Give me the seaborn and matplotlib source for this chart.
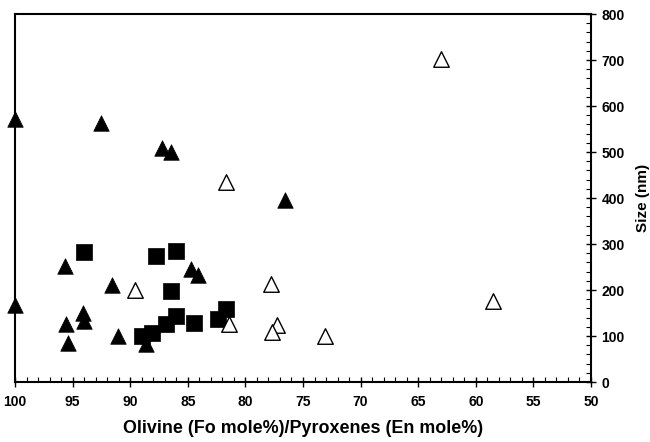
import matplotlib
matplotlib.use("Agg")
import matplotlib.pyplot as plt
from matplotlib.ticker import MultipleLocator
import seaborn as sns
import pandas as pd

# Filled triangles
ft_x = [100, 92.5, 87.2, 86.5, 76.6, 100, 95.7, 91.6, 84.7, 84.1, 94.1, 94.0, 95.6, 95.4, 91.1, 88.6]
ft_y = [571, 562, 509, 500, 395, 168, 252, 210, 245, 232, 150, 132, 126, 85, 101, 82]

# Filled squares
sq_x = [94.0, 87.8, 86.0, 86.5, 89.0, 88.1, 86.9, 86.0, 84.5, 82.4, 81.7]
sq_y = [283, 274, 284, 198, 100, 106, 127, 144, 129, 138, 159]

# Open triangles
ot_x = [63.0, 81.7, 89.6, 77.8, 81.4, 77.3, 77.7, 73.1, 58.5]
ot_y = [702, 435, 201, 214, 127, 124, 109, 100, 177]

x_ticks = [100, 95, 90, 85, 80, 75, 70, 65, 60, 55, 50]
y_ticks = [0, 100, 200, 300, 400, 500, 600, 700, 800]

sns.set_style("white")
plt.rcParams["font.family"] = ["Liberation Sans", "DejaVu Sans"]
plt.rcParams["font.weight"] = "bold"
plt.rcParams["text.color"] = "black"
plt.rcParams["axes.labelcolor"] = "black"
plt.rcParams["xtick.color"] = "black"
plt.rcParams["ytick.color"] = "black"

fig = plt.figure(figsize=(6.5, 4.42), dpi=100)
ax = fig.add_axes([15 / 650, 60 / 442, 576 / 650, 368 / 442])

ft = pd.DataFrame({"x": ft_x, "y": ft_y})
sq = pd.DataFrame({"x": sq_x, "y": sq_y})
ot = pd.DataFrame({"x": ot_x, "y": ot_y})

sns.scatterplot(data=ft, x="x", y="y", marker="^", s=125, color="black",
                edgecolor="black", linewidth=0.5, ax=ax, clip_on=False, zorder=3)
sns.scatterplot(data=sq, x="x", y="y", marker="s", s=135, color="black",
                edgecolor="black", linewidth=0.5, ax=ax, clip_on=False, zorder=4)
sns.scatterplot(data=ot, x="x", y="y", marker="^", s=125, facecolor="white",
                edgecolor="black", linewidth=1.0, ax=ax, clip_on=False, zorder=5)

ax.set_xlim(100, 50)
ax.set_ylim(0, 800)
ax.set_xticks(x_ticks)
ax.set_yticks(y_ticks)
ax.xaxis.set_minor_locator(MultipleLocator(1))
ax.yaxis.set_minor_locator(MultipleLocator(20))

ax.yaxis.tick_right()
ax.yaxis.set_label_position("right")

for side in ["left", "right", "top", "bottom"]:
    ax.spines[side].set_visible(True)
    ax.spines[side].set_color("black")
    ax.spines[side].set_linewidth(1.5)

ax.tick_params(which="major", direction="inout", length=7, width=1.0,
               labelsize=10, colors="black", labelcolor="black")
ax.tick_params(which="minor", direction="in", length=3.5, width=0.8, colors="black")
ax.tick_params(axis="x", which="both", top=False, bottom=True, pad=6)
ax.tick_params(axis="y", which="both", left=False, right=True, pad=4)

for lab in ax.get_xticklabels() + ax.get_yticklabels():
    lab.set_fontweight("bold")
    lab.set_color("black")

ax.set_xlabel("Olivine (Fo mole%)/Pyroxenes (En mole%)", fontsize=12.9,
              fontweight="bold", labelpad=8, color="black")
ax.set_ylabel("Size (nm)", fontsize=11, fontweight="bold", labelpad=8,
              rotation=90, color="black")

fig.savefig("out.png", dpi=100)
